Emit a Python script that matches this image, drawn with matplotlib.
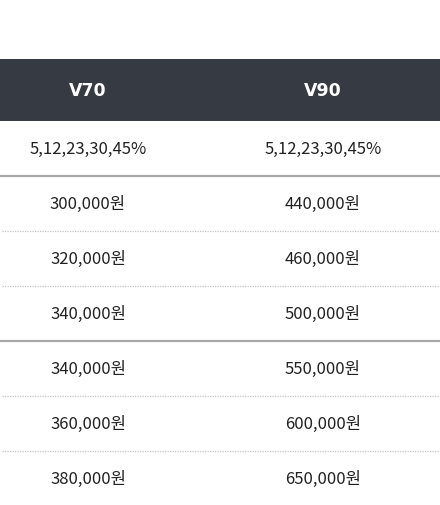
import matplotlib.pyplot as plt

plt.rcParams['font.family'] = ['Noto Sans CJK KR', 'DejaVu Sans']

models = ['V70', 'V90']
rates = ['5,12,23,30,45%', '5,12,23,30,45%']
v70_prices = ['300,000원', '320,000원', '340,000원', '340,000원', '360,000원', '380,000원']
v90_prices = ['440,000원', '460,000원', '500,000원', '550,000원', '600,000원', '650,000원']

W, H = 440, 506
fig = plt.figure(figsize=(W / 100, H / 100), dpi=100)
ax = fig.add_axes([0, 0, 1, 1])
ax.set_xlim(0, W)
ax.set_ylim(H, 0)
ax.axis('off')

col_x = [88, 323]
header_top, header_bot = 60, 122
row_h = 55

# header
ax.add_patch(plt.Rectangle((0, header_top), W, header_bot - header_top, color='#353a43', lw=0))
for x, m in zip(col_x, models):
    ax.text(x, (header_top + header_bot) / 2, m, color='white', fontsize=12.5,
            fontweight='bold', ha='center', va='center', family='DejaVu Sans')

rows = [rates] + [[a, b] for a, b in zip(v70_prices, v90_prices)]
for i, row in enumerate(rows):
    yc = header_bot + row_h * i + row_h / 2
    for x, t in zip(col_x, row):
        ax.text(x, yc, t, color='#222222', fontsize=12, ha='center', va='center')
    yl = header_bot + row_h * (i + 1)
    if i < len(rows) - 1:
        if i in (0, 3):
            ax.plot([0, W], [yl, yl], color='#a8a8a8', lw=1.6)
        else:
            ax.plot([2, W], [yl, yl], color='#c4c4c4', lw=0.9, ls=(0, (1, 1)))

fig.savefig('out.png', dpi=100)
